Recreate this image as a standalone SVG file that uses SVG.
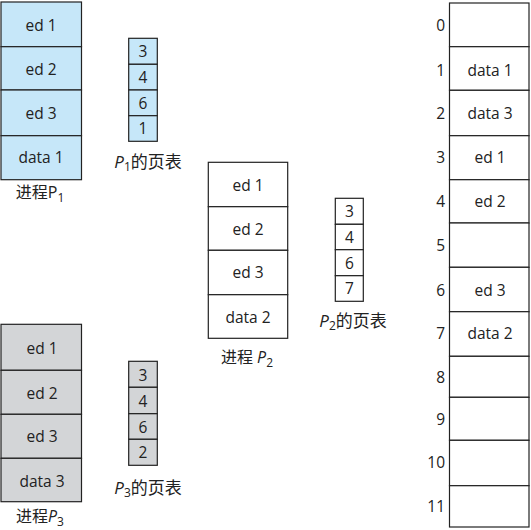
<svg xmlns="http://www.w3.org/2000/svg" width="531" height="530" viewBox="0 0 531 530">
<style>
text{font-family:"Open Sans","Noto Sans","Noto Sans CJK SC",sans-serif;font-size:15.5px;fill:#222;text-anchor:middle;dominant-baseline:central}
.c{stroke:#222;stroke-width:1.2}
.blue{fill:#c6e7f9}
.gray{fill:#d3d5d7}
.white{fill:#fff}
.num{text-anchor:end}
.lbl{font-size:16px}
.tl{font-size:17px}
.it{font-style:italic}
.sub{font-size:12px}
</style>
<rect width="531" height="530" fill="#fff"/>
<g id="p1">
<rect class="c blue" x="1" y="2" width="80.5" height="44.7"/>
<rect class="c blue" x="1" y="46.7" width="80.5" height="43.3"/>
<rect class="c blue" x="1" y="90" width="80.5" height="45.7"/>
<rect class="c blue" x="1" y="135.7" width="80.5" height="44"/>
<text x="41" y="25">ed 1</text><text x="41" y="69">ed 2</text><text x="41" y="113">ed 3</text><text x="41" y="157">data 1</text>
<text x="40" y="192" class="lbl">进程P<tspan class="sub" dy="5">1</tspan></text>
</g>
<g id="pt1">
<rect class="c blue" x="128.7" y="38.3" width="28.6" height="26"/>
<rect class="c blue" x="128.7" y="64.3" width="28.6" height="25.7"/>
<rect class="c blue" x="128.7" y="90" width="28.6" height="25.7"/>
<rect class="c blue" x="128.7" y="115.7" width="28.6" height="25.6"/>
<text x="143" y="51">3</text><text x="143" y="77">4</text><text x="143" y="102.5">6</text><text x="143" y="128">1</text>
<text x="148" y="161" class="tl"><tspan class="it">P</tspan><tspan class="sub" dy="5">1</tspan><tspan dy="-5">的页表</tspan></text>
</g>
<g id="p2">
<rect class="c white" x="208.3" y="162.3" width="79.4" height="44.4"/>
<rect class="c white" x="208.3" y="206.7" width="79.4" height="43.6"/>
<rect class="c white" x="208.3" y="250.3" width="79.4" height="44.4"/>
<rect class="c white" x="208.3" y="294.7" width="79.4" height="43.6"/>
<text x="248" y="185">ed 1</text><text x="248" y="229">ed 2</text><text x="248" y="272">ed 3</text><text x="248" y="317">data 2</text>
<text x="247" y="357" class="lbl">进程 <tspan class="it">P</tspan><tspan class="sub" dy="5">2</tspan></text>
</g>
<g id="pt2">
<rect class="c white" x="335.3" y="198.3" width="28" height="26"/>
<rect class="c white" x="335.3" y="224.3" width="28" height="25.4"/>
<rect class="c white" x="335.3" y="249.7" width="28" height="26"/>
<rect class="c white" x="335.3" y="275.7" width="28" height="25.6"/>
<text x="349.5" y="211">3</text><text x="349.5" y="237">4</text><text x="349.5" y="262.5">6</text><text x="349.5" y="288">7</text>
<text x="353" y="320" class="tl"><tspan class="it">P</tspan><tspan class="sub" dy="5">2</tspan><tspan dy="-5">的页表</tspan></text>
</g>
<g id="p3">
<rect class="c gray" x="1" y="324.3" width="80.5" height="46"/>
<rect class="c gray" x="1" y="370.3" width="80.5" height="44"/>
<rect class="c gray" x="1" y="414.3" width="80.5" height="44"/>
<rect class="c gray" x="1" y="458.3" width="80.5" height="43.4"/>
<text x="42" y="348">ed 1</text><text x="42" y="393">ed 2</text><text x="42" y="436">ed 3</text><text x="42" y="481">data 3</text>
<text x="40" y="516" class="lbl">进程<tspan class="it">P</tspan><tspan class="sub" dy="5">3</tspan></text>
</g>
<g id="pt3">
<rect class="c gray" x="128.7" y="361.3" width="28.6" height="26"/>
<rect class="c gray" x="128.7" y="387.3" width="28.6" height="26.4"/>
<rect class="c gray" x="128.7" y="413.7" width="28.6" height="25.6"/>
<rect class="c gray" x="128.7" y="439.3" width="28.6" height="26"/>
<text x="143" y="374.5">3</text><text x="143" y="400.5">4</text><text x="143" y="426.5">6</text><text x="143" y="452">2</text>
<text x="148" y="487" class="tl"><tspan class="it">P</tspan><tspan class="sub" dy="5">3</tspan><tspan dy="-5">的页表</tspan></text>
</g>
<g id="memory">
<rect class="c white" x="449.5" y="3" width="79.5" height="43.7"/>
<rect class="c white" x="449.5" y="46.7" width="79.5" height="43.6"/>
<rect class="c white" x="449.5" y="90.3" width="79.5" height="45.4"/>
<rect class="c white" x="449.5" y="135.7" width="79.5" height="44"/>
<rect class="c white" x="449.5" y="179.7" width="79.5" height="43.3"/>
<rect class="c white" x="449.5" y="223" width="79.5" height="44.3"/>
<rect class="c white" x="449.5" y="267.3" width="79.5" height="44.4"/>
<rect class="c white" x="449.5" y="311.7" width="79.5" height="44.6"/>
<rect class="c white" x="449.5" y="356.3" width="79.5" height="41"/>
<rect class="c white" x="449.5" y="397.3" width="79.5" height="43"/>
<rect class="c white" x="449.5" y="440.3" width="79.5" height="45.4"/>
<rect class="c white" x="449.5" y="485.7" width="79.5" height="41.3"/>
<text class="num" x="445" y="25">0</text><text class="num" x="445" y="70">1</text><text class="num" x="445" y="113">2</text><text class="num" x="445" y="157">3</text>
<text class="num" x="445" y="201">4</text><text class="num" x="445" y="245">5</text><text class="num" x="445" y="290">6</text><text class="num" x="445" y="333">7</text>
<text class="num" x="445" y="377">8</text><text class="num" x="445" y="419">9</text><text class="num" x="445" y="462">10</text><text class="num" x="445" y="506">11</text>
<text x="490" y="70">data 1</text><text x="490" y="113">data 3</text><text x="490" y="157">ed 1</text><text x="490" y="201">ed 2</text>
<text x="490" y="290">ed 3</text><text x="490" y="333">data 2</text>
</g>
</svg>
